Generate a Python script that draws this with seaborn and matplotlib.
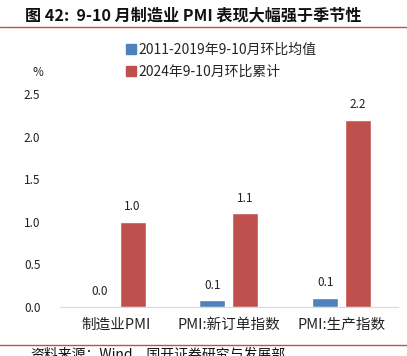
import pandas as pd
import matplotlib
matplotlib.use('Agg')
import matplotlib.pyplot as plt
import seaborn as sns
from matplotlib.lines import Line2D

# 数据
categories = ['制造业PMI', 'PMI:新订单指数', 'PMI:生产指数']
series_names = ['2011-2019年9-10月环比均值', '2024年9-10月环比累计']
avg_2011_2019 = [0.01, 0.08, 0.11]
sum_2024 = [1.0, 1.1, 2.2]
yticks = [0.0, 0.5, 1.0, 1.5, 2.0, 2.5]

df = pd.DataFrame({
    'category': categories * 2,
    'series': [series_names[0]] * 3 + [series_names[1]] * 3,
    'value': avg_2011_2019 + sum_2024,
})

sns.set_style('white')
plt.rcParams['font.family'] = ['Noto Sans CJK SC', 'DejaVu Sans']

fig = plt.figure(figsize=(4.07, 3.56), dpi=100)
ax = fig.add_axes([0.147, 0.138, 0.831, 0.598])

palette = {series_names[0]: '#4F81BD', series_names[1]: '#C0504D'}
sns.barplot(data=df, x='category', y='value', hue='series', palette=palette,
            width=0.585, gap=0.21, ax=ax, legend=False, saturation=1)

# 数值标签
for cont in ax.containers:
    ax.bar_label(cont, fmt='%.1f', padding=6, fontsize=8.5, color='#222222')

ax.set_ylim(0, 2.5)
ax.set_yticks(yticks)
ax.set_yticklabels([f'{v:.1f}' for v in yticks], fontsize=8.5, color='#222222')
ax.set_xlim(-0.5, 2.5)
ax.tick_params(axis='x', labelsize=10.5, colors='#222222', length=0, pad=8)
ax.tick_params(axis='y', length=0, pad=14)
ax.set_xlabel('')
ax.set_ylabel('')
for s in ['top', 'right', 'left']:
    ax.spines[s].set_visible(False)
ax.spines['bottom'].set_color('#D9D9D9')

# 图例
handles = [Line2D([], [], marker='s', linestyle='', markersize=7,
                  color=palette[n]) for n in series_names]
fig.legend(handles, series_names, loc='upper left', bbox_to_anchor=(0.29, 0.895),
           frameon=False, fontsize=10, handletextpad=0.1, labelspacing=0.55,
           handlelength=1.0, borderaxespad=0)

fig.text(0.093, 0.795, '%', fontsize=8.5, color='#222222', ha='center', va='center')

# 标题与分隔线
fig.text(0.062, 0.958, '图 42:  9-10 月制造业 PMI 表现大幅强于季节性', fontsize=11.6,
         fontweight='bold', color='#111111', ha='left', va='center')
fig.add_artist(Line2D([0, 1], [0.924, 0.924], color='#C0504D', lw=1))
fig.add_artist(Line2D([0, 1], [0.031, 0.031], color='#C0504D', lw=1))
fig.text(0.075, 0.024, '资料来源：Wind，国开证券研究与发展部', fontsize=10,
         color='#111111', ha='left', va='top')

fig.savefig('out.png', dpi=100)
